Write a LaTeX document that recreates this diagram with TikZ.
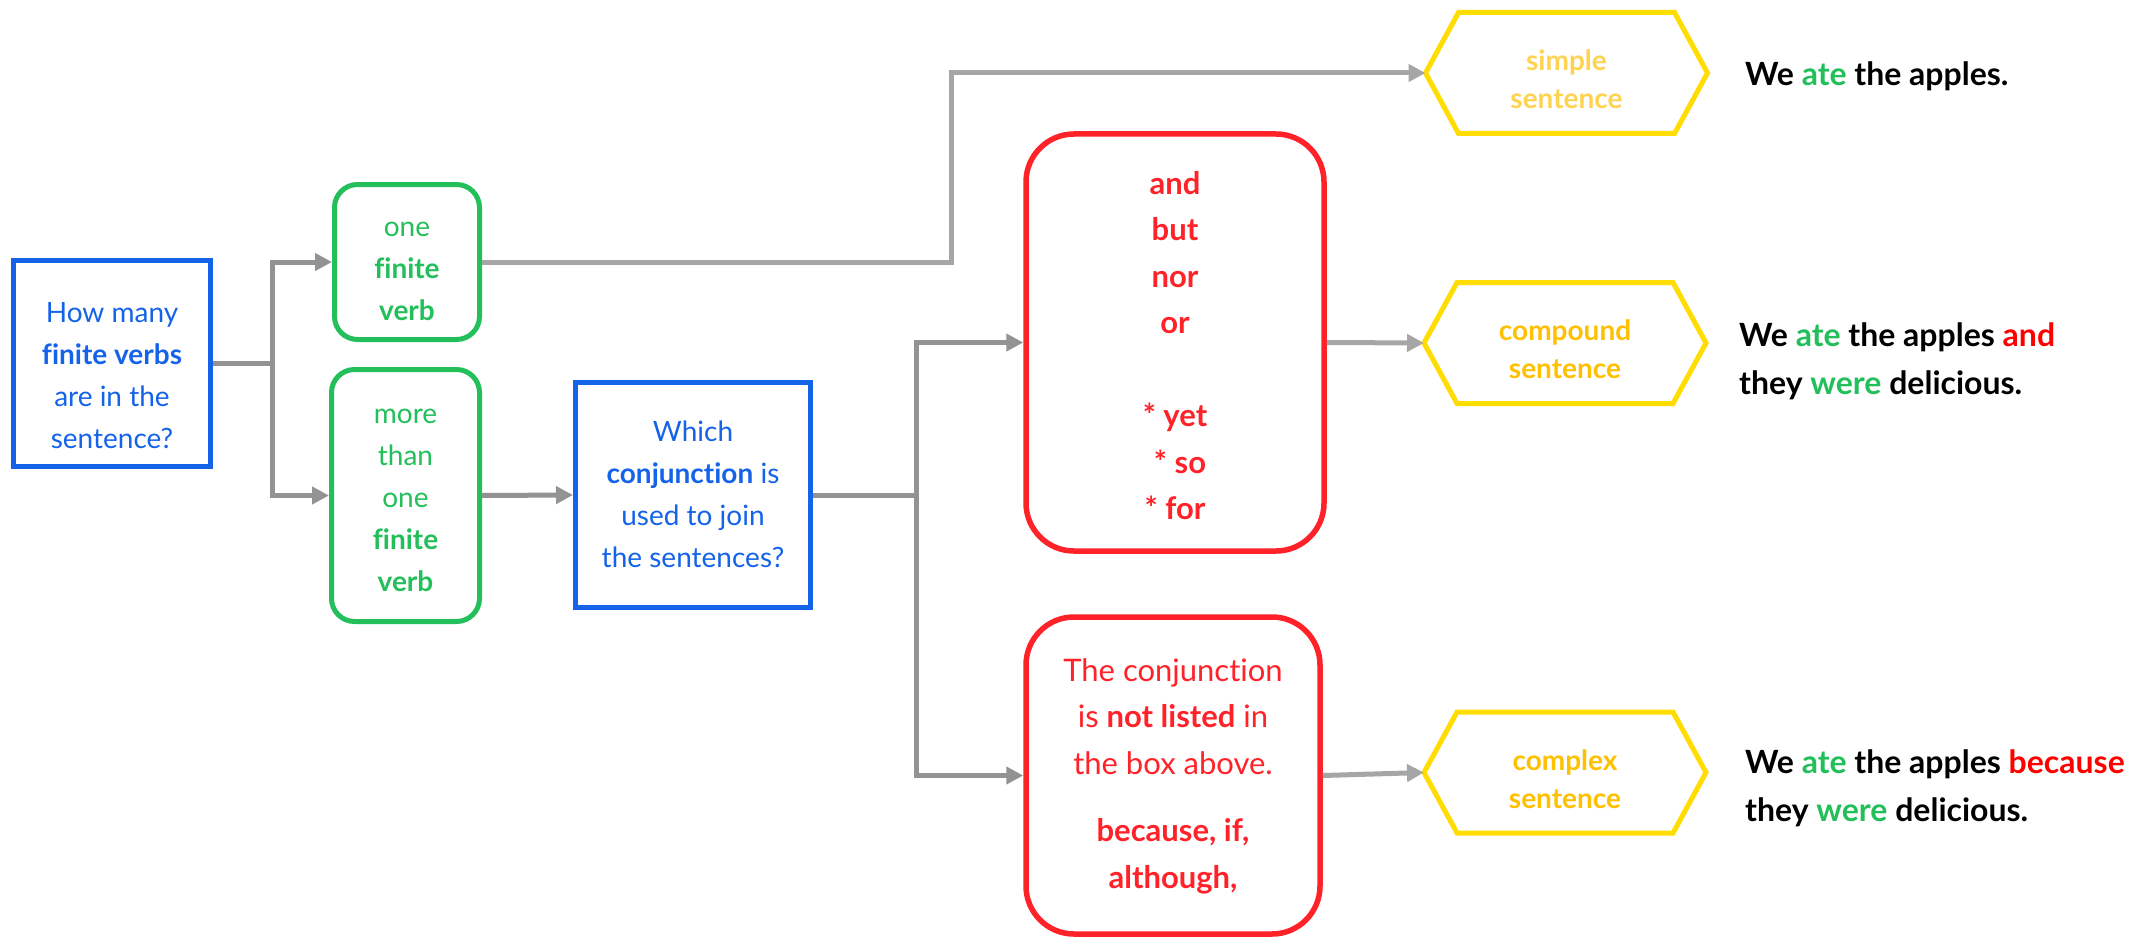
\documentclass[tikz,border=0pt]{standalone}
\usepackage{fontspec}
\setmainfont{Lato}[Ligatures=CommonOff]
\usetikzlibrary{arrows.meta,calc}
\definecolor{qblue}{HTML}{1463E8}
\definecolor{vgreen}{HTML}{23BF5B}
\definecolor{cred}{HTML}{FF2229}
\definecolor{pred}{HTML}{FF0000}
\definecolor{hexyellow}{HTML}{FFDD00}
\definecolor{hextext}{HTML}{FFC000}
\definecolor{hexpale}{HTML}{FFD34F}
\definecolor{arrdark}{HTML}{939393}
\definecolor{arrlight}{HTML}{A6A6A6}
% centred lines of text, lowered by #1 inside the node
\newcommand\tlines[2]{\raisebox{-#1}[\height][\depth]{\begin{tabular}{@{}c@{}}#2\end{tabular}}}
\newcommand\hexoutline[1]{%
  \draw[hexline] (#1.west) -- ([xshift=33pt]#1.north west) -- ([xshift=-33pt]#1.north east)
    -- (#1.east) -- ([xshift=-33pt]#1.south east) -- ([xshift=33pt]#1.south west) -- cycle;}
\begin{document}
\begin{tikzpicture}[x=1pt,y=-1pt,
  qbox/.style={draw=qblue, line width=5pt, text=qblue, inner sep=0pt, font=\fontsize{28}{42}\selectfont},
  vbox/.style={draw=vgreen, line width=5pt, rounded corners=23pt, text=vgreen, inner sep=0pt, font=\fontsize{28}{42}\selectfont},
  cbox/.style={draw=cred, line width=5.5pt, rounded corners=48pt, text=cred, inner sep=0pt, font=\fontsize{31}{46.5}\selectfont},
  hexnode/.style={inner sep=0pt, outer sep=0pt, minimum width=282pt, minimum height=121pt, font=\fontsize{28}{38}\selectfont\bfseries, text=hextext},
  hexline/.style={draw=hexyellow, line width=5pt},
  conn/.style={draw=arrdark, line width=5pt},
  arr/.style={conn, -{Triangle[length=17pt,width=17pt]}},
  arrl/.style={draw=arrlight, line width=5pt, -{Triangle[length=17pt,width=17pt]}},
  extext/.style={inner sep=0pt, align=left, font=\fontsize{32}{48}\selectfont\bfseries},
]
\fill[white] (0,0) rectangle (2149,939);
\useasboundingbox (0,0) rectangle (2149,939);

% question boxes
\node[qbox, minimum width=197pt, minimum height=206pt] (q1) at (112,363.5)
  {\tlines{14pt}{How many\\ \textbf{finite verbs}\\ are in the\\ sentence?}};
\node[qbox, minimum width=235pt, minimum height=225pt] (q2) at (693,495)
  {\tlines{1pt}{Which\\ \textbf{conjunction} is\\ used to join\\ the sentences?}};

% verb boxes
\node[vbox, minimum width=145pt, minimum height=155pt] (one) at (407,262)
  {\tlines{8pt}{one\\ \textbf{finite}\\ \textbf{verb}}};
\node[vbox, minimum width=148pt, minimum height=252pt] (more) at (405.5,495.5)
  {\tlines{4pt}{more\\ than\\ one\\ \textbf{finite}\\ \textbf{verb}}};

% conjunction boxes
\node[cbox, minimum width=298pt, minimum height=417pt, font=\fontsize{31}{46.5}\selectfont\bfseries] (conj) at (1175,342.5)
  {\tlines{5pt}{and\\ but\\ nor\\ or\\[46.5pt] {*} yet\\ \hspace*{10pt}{*} so\\ {*} for}};
\node[cbox, minimum width=294pt, minimum height=317pt] (notl) at (1173,775.5)
  {\tlines{0pt}{The conjunction\\ is \textbf{not listed} in\\ the box above.\\[21pt] \textbf{because, if,}\\ \textbf{although,}}};

% hexagons
\node[hexnode, text=hexpale] (simple) at (1566.5,73) {\tlines{9pt}{simple\\ sentence}};
\node[hexnode] (compound) at (1565,343) {\tlines{9pt}{compound\\ sentence}};
\node[hexnode] (complex) at (1565,772.5) {\tlines{9pt}{complex\\ sentence}};
\hexoutline{simple}
\hexoutline{compound}
\hexoutline{complex}

% example sentences
\node[extext, anchor=base west] (ex1) at (1745,86)
  {We \textcolor{vgreen}{ate} the apples.};
\node[extext, anchor=west] (ex2) at (1739,361)
  {We \textcolor{vgreen}{ate} the apples \textcolor{pred}{and}\\ they \textcolor{vgreen}{were} delicious.};
\node[extext, anchor=west] (ex3) at (1745,788.5)
  {We \textcolor{vgreen}{ate} the apples \textcolor{pred}{because}\\ they \textcolor{vgreen}{were} delicious.};

% connectors
\coordinate (j1) at (272,363.5);
\coordinate (j2) at (916,495);
\coordinate (c1) at (951,73);
\draw[conn] (q1.east) -- (j1);
\draw[arr] (j1) |- (one.west);
\draw[arr] (j1) |- (more.west);
\draw[arrl] (one.east) -| (c1) -- (simple.west);
\draw[arr] (more.east) -- (q2.west);
\draw[conn] (q2.east) -- (j2);
\draw[arr] (j2) |- (conj.west);
\draw[arr] (j2) |- (notl.west);
\draw[arrl] (conj.east) -- (compound.west);
\draw[arrl] (notl.east) -- (complex.west);
\end{tikzpicture}
\end{document}
